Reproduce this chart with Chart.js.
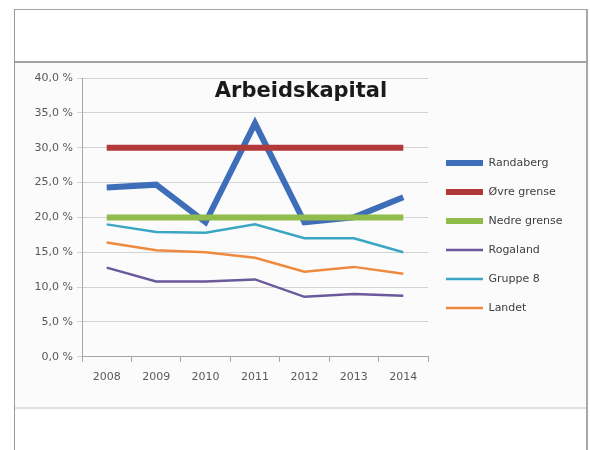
<!DOCTYPE html>
<html>
<head>
<meta charset="utf-8">
<script src="https://cdn.jsdelivr.net/npm/chart.js@4/dist/chart.umd.min.js"></script>
<style>
    html, body { margin: 0; padding: 0; background: #fff; }
    #wrap { position: relative; width: 590px; height: 450px; overflow: hidden; }
    .frame { position: absolute; }
    #frameTop { left: 14px; top: 9px; width: 574px; height: 0; border-top: 1px solid #a6a6a6; }
    #frameLeft { left: 14px; top: 9px; width: 0; height: 441px; border-left: 1px solid #9a9a9a; }
    #frameRight { left: 586px; top: 9px; width: 0; height: 441px; border-left: 2px solid #a8a8a8; }
    #panel { left: 15px; top: 61px; width: 571px; height: 344px; background: #fbfbfb;
             border-top: 2px solid #a3a3a3; border-bottom: 2px solid #e0e0e0; }
    #myChart { position: absolute; left: 0; top: 0; }
</style>
</head>
<body>
<div id="wrap">
    <div class="frame" id="panel"></div>
    <div class="frame" id="frameTop"></div>
    <div class="frame" id="frameLeft"></div>
    <div class="frame" id="frameRight"></div>
    <canvas id="myChart" width="590" height="450"></canvas>
</div>
<script>
/**
 * データ
 */
const years = ['2008', '2009', '2010', '2011', '2012', '2013', '2014'];
const randaberg = [24.3, 24.7, 19.3, 33.5, 19.3, 20.0, 22.9];
const ovreGrense = [30, 30, 30, 30, 30, 30, 30];
const nedreGrense = [20, 20, 20, 20, 20, 20, 20];
const rogaland = [12.8, 10.8, 10.8, 11.1, 8.6, 9.0, 8.75];
const gruppe8 = [19.0, 17.9, 17.8, 19.0, 17.0, 17.0, 15.0];
const landet = [16.4, 15.3, 15.0, 14.2, 12.2, 12.9, 11.9];
const titleText = 'Arbeidskapital';

const fontFamily = '"DejaVu Sans", sans-serif';

/**
 * データセットを生成
 *
 * @param {string} label ラベル
 * @param {number[]} data 値
 * @param {string} color 色
 * @param {number} width 線幅
 * @param {number} order 描画順
 */
function line(label, data, color, width, order) {
    return {
        label: label,
        data: data,
        borderColor: color,
        backgroundColor: color,
        borderWidth: width,
        pointRadius: 0,
        pointHoverRadius: 0,
        pointStyle: 'line',
        tension: 0,
        fill: false,
        order: order
    };
}

// タイトル（グラフ内に描画）
const innerTitle = {
    id: 'innerTitle',
    afterDraw(chart) {
        const ctx = chart.ctx;
        ctx.save();
        ctx.font = 'bold 21px ' + fontFamily;
        ctx.fillStyle = '#1a1a1a';
        ctx.textAlign = 'center';
        ctx.textBaseline = 'middle';
        ctx.fillText(titleText, chart.width / 2 + 6, chart.chartArea.top + 14);
        ctx.restore();
    }
};

const chart = new Chart(document.getElementById('myChart'), {
    type: 'line',
    data: {
        labels: years,
        datasets: [
            line('Randaberg', randaberg, '#3f6eb8', 6, 5),
            line('Øvre grense', ovreGrense, '#b2393a', 6, 4),
            line('Nedre grense', nedreGrense, '#8fbc4a', 6, 3),
            line('Rogaland', rogaland, '#6a5a9c', 2.5, 2),
            line('Gruppe 8', gruppe8, '#3aa6c3', 2.5, 1),
            line('Landet', landet, '#ee8a3f', 2.5, 0)
        ]
    },
    options: {
        responsive: false,
        animation: false,
        layout: {
            padding: { left: 14, top: 78, right: 24, bottom: 57 }
        },
        plugins: {
            title: { display: false },
            tooltip: { enabled: false },
            legend: {
                position: 'right',
                labels: {
                    usePointStyle: true,
                    pointStyleWidth: 37,
                    padding: 18,
                    color: '#404040',
                    font: { family: fontFamily, size: 11 },
                    sort: (a, b) => a.datasetIndex - b.datasetIndex
                }
            }
        },
        scales: {
            x: {
                offset: true,
                grid: {
                    offset: true,
                    drawOnChartArea: false,
                    tickLength: 5,
                    color: '#a6a6a6'
                },
                border: { color: '#a6a6a6' },
                ticks: {
                    padding: 9,
                    color: '#595959',
                    font: { family: fontFamily, size: 11 }
                }
            },
            y: {
                min: 0,
                max: 40,
                afterFit(scale) {
                    scale.width = 68;
                },
                grid: {
                    color: '#d3d3d3',
                    tickLength: 5
                },
                border: { color: '#a6a6a6' },
                ticks: {
                    stepSize: 5,
                    padding: 4,
                    color: '#595959',
                    font: { family: fontFamily, size: 11 },
                    callback: (v) => v.toFixed(1).replace('.', ',') + ' %'
                }
            }
        }
    },
    plugins: [innerTitle]
});
</script>
</body>
</html>
